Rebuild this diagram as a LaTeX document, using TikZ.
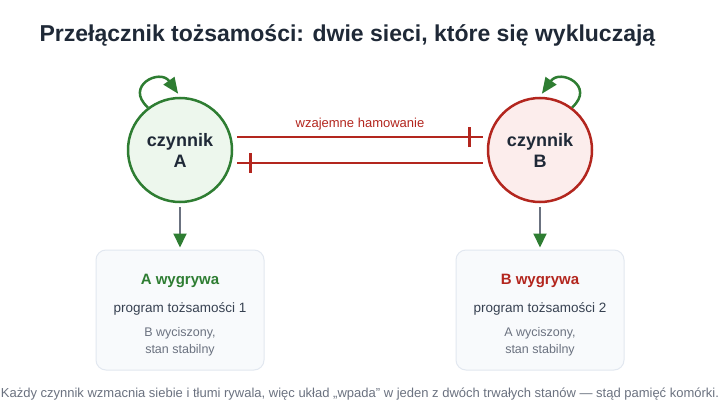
\documentclass[tikz,border=0pt]{standalone}
\usepackage{fontspec}
\setmainfont{Liberation Sans}
\usetikzlibrary{arrows.meta,decorations.markings}
\definecolor{gA}{HTML}{2E7D32}
\definecolor{rB}{HTML}{B3261E}
\definecolor{fillA}{HTML}{EDF7ED}
\definecolor{fillB}{HTML}{FCEDEC}
\definecolor{ink}{HTML}{1F2937}
\definecolor{mid}{HTML}{374151}
\definecolor{muted}{HTML}{6B7280}
\definecolor{boxline}{HTML}{E2E8F0}
\definecolor{boxfill}{HTML}{F8FAFC}
\definecolor{shaft}{HTML}{6B7280}
\tikzset{
  factor/.style={circle,minimum size=104pt,inner sep=0pt,line width=2.5pt,align=center,
    font=\fontsize{18}{21}\selectfont\bfseries,text=ink},
  outbox/.style={rectangle,rounded corners=10pt,minimum width=168pt,minimum height=120pt,
    draw=boxline,fill=boxfill,line width=1pt},
  selfloop/.style={gA,line width=2.5pt,-{Triangle[length=16pt,width=13pt]}},
  inh/.style={rB,line width=2.5pt,postaction={decorate},
    decoration={markings,mark=at position -13pt with {\draw[rB,line width=3pt] (0,-10pt)--(0,10pt);}}},
  down/.style={shaft,line width=2pt,-{Triangle[length=14pt,width=13pt,color=gA]}},
  wintitle/.style={font=\fontsize{15}{18}\selectfont\bfseries},
  prog/.style={font=\fontsize{13.5}{16}\selectfont,text=mid},
  note/.style={font=\fontsize{12.5}{17}\selectfont,text=muted,align=center},
}
\begin{document}
\begin{tikzpicture}[x=1pt,y=-1pt]
\useasboundingbox[fill=white] (0,0) rectangle (720,420);
\node[anchor=west,font=\fontsize{23}{28}\selectfont\bfseries,text=ink] (title) at (36,35)
  {Przełącznik tożsamości: dwie sieci, które się wykluczają};

\node[factor,draw=gA,fill=fillA] (A) at (180,150) {czynnik\\A};
\node[factor,draw=rB,fill=fillB] (B) at (540,150) {czynnik\\B};

\draw[selfloop] (A.127) .. controls (124,86) and (160,68) .. ([yshift=3pt]A.92);
\draw[selfloop] (B.53) .. controls (596,86) and (560,68) .. ([yshift=3pt]B.88);

\draw[inh] ([xshift=4pt,yshift=13pt]A.east) -- ([xshift=-4pt,yshift=13pt]B.west)
  node[midway,above=2pt,font=\fontsize{13}{15}\selectfont,text=rB] (lab) {wzajemne hamowanie};
\draw[inh] ([xshift=-4pt,yshift=-13pt]B.west) -- ([xshift=4pt,yshift=-13pt]A.east);

\node[outbox] (WA) at (180,310) {};
\node[outbox] (WB) at (540,310) {};

\draw[down] ([yshift=-4pt]A.south) -- ([yshift=2pt]WA.north);
\draw[down] ([yshift=-4pt]B.south) -- ([yshift=2pt]WB.north);

\node[wintitle,text=gA] (WAt) at (180,281) {A wygrywa};
\node[prog] (WAp) at (180,309) {program tożsamości 1};
\node[note] (WAn) at (180,342) {B wyciszony,\\stan stabilny};

\node[wintitle,text=rB] (WBt) at (540,281) {B wygrywa};
\node[prog] (WBp) at (540,309) {program tożsamości 2};
\node[note] (WBn) at (540,342) {A wyciszony,\\stan stabilny};

\node[font=\fontsize{13}{15}\selectfont,text=muted] (foot) at (360,394)
  {Każdy czynnik wzmacnia siebie i tłumi rywala, więc układ „wpada” w jeden z dwóch trwałych stanów — stąd pamięć komórki.};
\end{tikzpicture}
\end{document}
